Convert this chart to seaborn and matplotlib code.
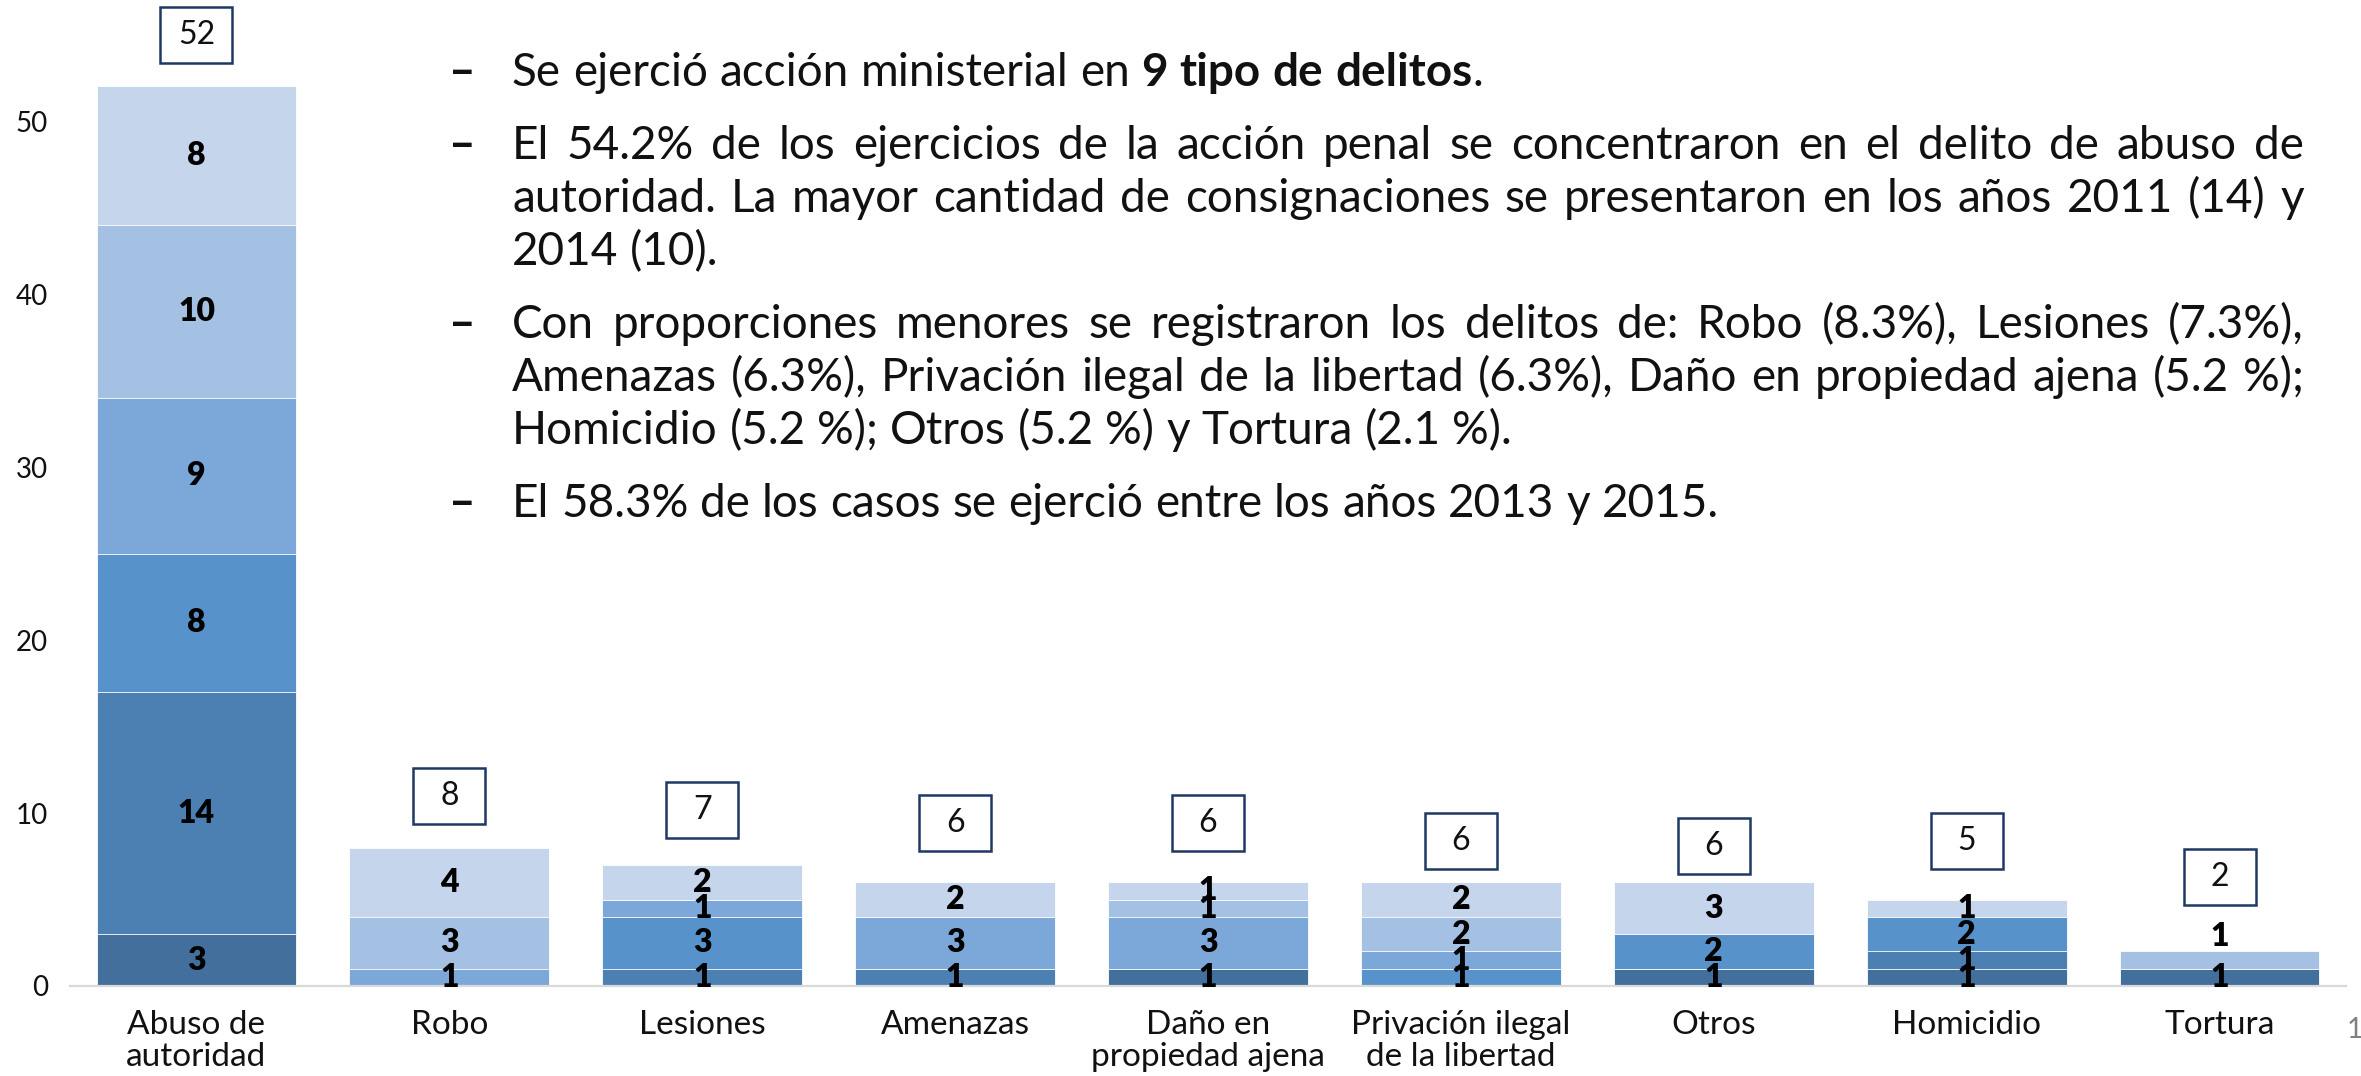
import matplotlib
matplotlib.use("Agg")
import numpy as np
import pandas as pd
import matplotlib.pyplot as plt
import matplotlib.transforms as mtransforms
from matplotlib.patches import Rectangle
from matplotlib.ticker import FixedLocator
import seaborn as sns

# ---- data ----
categories = ["Abuso de\nautoridad", "Robo", "Lesiones", "Amenazas", "Daño en\npropiedad ajena",
              "Privación ilegal\nde la libertad", "Otros", "Homicidio", "Tortura"]
years = ["2010", "2011", "2012", "2013", "2014", "2015"]
s2010 = [3, 0, 0, 0, 1, 0, 1, 1, 1]
s2011 = [14, 0, 1, 1, 0, 0, 0, 1, 0]
s2012 = [8, 0, 3, 0, 0, 1, 2, 2, 0]
s2013 = [9, 1, 1, 3, 3, 1, 0, 0, 0]
s2014 = [10, 3, 0, 0, 1, 2, 0, 0, 1]
s2015 = [8, 4, 2, 2, 1, 2, 3, 1, 0]
series = [s2010, s2011, s2012, s2013, s2014, s2015]
yticks = [0, 10, 20, 30, 40, 50]

paragraphs = [
    ["Se ejerció acción ministerial en **9 tipo de delitos**."],
    ["El 54.2% de los ejercicios de la acción penal se concentraron en el delito de abuso de",
     "autoridad. La mayor cantidad de consignaciones se presentaron en los años 2011 (14) y",
     "2014 (10)."],
    ["Con proporciones menores se registraron los delitos de: Robo (8.3%), Lesiones (7.3%),",
     "Amenazas (6.3%), Privación ilegal de la libertad (6.3%), Daño en propiedad ajena (5.2 %);",
     "Homicidio (5.2 %); Otros (5.2 %) y Tortura (2.1 %)."],
    ["El 58.3% de los casos se ejerció entre los años 2013 y 2015."],
]

# ---- style ----
colors = ["#426F9B", "#4C80B2", "#5793CA", "#7BA8D8", "#A4C1E4", "#C5D5EB"]
box_lift = [3.0, 3.0, 3.2, 3.4, 3.4, 2.4, 2.1, 3.4, 4.3]   # box centre above bar total
label_nudge = {(4, 8): 1.35}                                # Tortura top label sits above bar
fam = ["Lato", "DejaVu Sans"]
ink = "#111111"

sns.set_style("white")
plt.rcParams["font.family"] = fam

W, H = 2361, 1076
fig = plt.figure(figsize=(W / 100, H / 100), dpi=100)
ax = fig.add_axes([70 / W, 90 / H, (2346 - 70) / W, 986 / H])

df = pd.DataFrame({y: s for y, s in zip(years, series)}, index=categories)
cum = df.cumsum(axis=1)

# stacked bars: draw cumulative heights from top layer down
for i in range(len(years) - 1, -1, -1):
    sns.barplot(x=categories, y=cum[years[i]].values, color=colors[i], width=0.79,
                saturation=1, edgecolor="white", linewidth=0.6, ax=ax)

# segment labels
for i in range(len(years)):
    for j in range(len(categories)):
        v = df.iloc[j, i]
        if v <= 0:
            continue
        yc = cum.iloc[j, i] - v / 2 + label_nudge.get((i, j), 0)
        ax.text(j, yc, str(v), ha="center", va="center", fontsize=23,
                fontweight="heavy", color="black", family=fam)

# total boxes
totals = df.sum(axis=1).values
for j, tot in enumerate(totals):
    yc = tot + box_lift[j]
    trans = fig.dpi_scale_trans + mtransforms.ScaledTranslation(j, yc, ax.transData)
    rect = Rectangle((-0.36, -0.28), 0.72, 0.56, transform=trans, fill=False,
                     ec="#1F3864", lw=1.8, clip_on=False)
    ax.add_artist(rect)
    ax.text(j, yc, str(tot), ha="center", va="center", fontsize=23,
            fontweight="normal", color=ink, family=fam)

ax.set_xlim(-0.5, len(categories) - 0.5)
ax.set_ylim(0, 57)
ax.set_yticks(yticks)
ax.set_yticklabels([str(t) for t in yticks], fontsize=20, color=ink)
ax.tick_params(axis="y", length=0, pad=16)
ax.set_xticks(range(len(categories)))
ax.set_xticklabels(categories, fontsize=24, color=ink, linespacing=1.12)
ax.tick_params(axis="x", which="major", length=0, pad=17)
ax.xaxis.set_minor_locator(FixedLocator(np.arange(-0.5, len(categories), 1.0)))
ax.tick_params(axis="x", which="minor", length=8, width=1.5, color="#D9D9D9")
for s in ["top", "right", "left"]:
    ax.spines[s].set_visible(False)
ax.spines["bottom"].set_color("#D9D9D9")
ax.spines["bottom"].set_linewidth(1.6)
ax.set_xlabel("")
ax.set_ylabel("")

# ---- justified bullet text ----
renderer = fig.canvas.get_renderer()


def text_w(s, size, bold):
    t = fig.text(0, 0, s, fontsize=size, fontweight="bold" if bold else "normal", family=fam)
    w = t.get_window_extent(renderer).width
    t.remove()
    return w


def split_runs(line):
    words, bold = [], False
    for word in line.split(" "):
        runs = []
        for k, p in enumerate(word.split("**")):
            if k > 0:
                bold = not bold
            if p:
                runs.append((p, bold))
        words.append(runs)
    return words


# pick font size so the first (unjustified) line spans like the reference
probe = "Se ejerció acción ministerial en 9 tipo de delitos."
fs = 30 * 965 / text_w(probe, 30, False)
space = text_w("a a", fs, False) - text_w("aa", fs, False)

x_left, x_right, x_dash = 512, 2304, 449
baselines = [[86], [159, 212, 265], [338, 391, 444], [517]]
for para, bl in zip(paragraphs, baselines):
    fig.text(x_dash / W, 1 - bl[0] / H, "–", fontsize=fs, fontweight="bold",
             color=ink, va="baseline", family=fam)
    for k, (line, yb) in enumerate(zip(para, bl)):
        words = split_runs(line)
        widths = [[text_w(p, fs, b) for p, b in w] for w in words]
        total = sum(sum(w) for w in widths)
        justify = k < len(para) - 1
        gap = (x_right - x_left - total) / (len(words) - 1) if justify else space
        x = x_left
        for runs, ws in zip(words, widths):
            for (p, b), wd in zip(runs, ws):
                fig.text(x / W, 1 - yb / H, p, fontsize=fs,
                         fontweight="bold" if b else "normal", color=ink,
                         va="baseline", family=fam)
                x += wd
            x += gap

fig.text(2347 / W, 1 - 1030 / H, "1", fontsize=20, color="#808080", va="center", family=fam)

fig.savefig("out.png", dpi=100)
